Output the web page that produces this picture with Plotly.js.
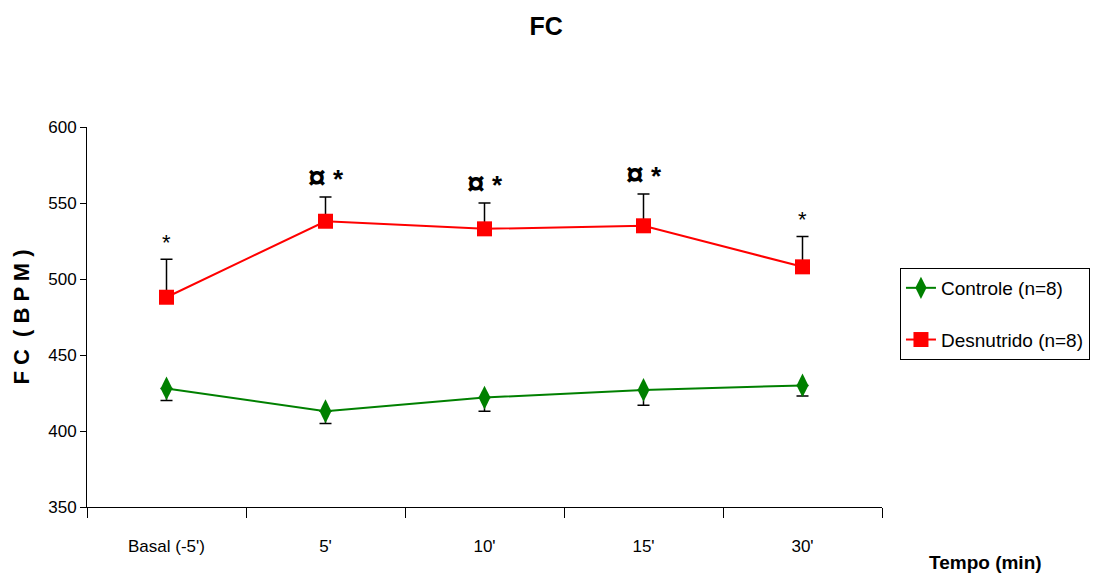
<!DOCTYPE html>
<html>
<head>
<meta charset="utf-8">
<script src="https://cdn.plot.ly/plotly-3.0.1.min.js"></script>
<style>html,body{margin:0;padding:0;background:#fff;}#chart{width:1099px;height:579px;}</style>
</head>
<body>
<div id="chart"></div>
<script>
const categories = ["Basal (-5')", "5'", "10'", "15'", "30'"];
const controleValues = [428, 413, 422, 427, 430];
const controleErr = [8, 8, 9, 10, 7];
const desnutridoValues = [488, 538, 533, 535, 508];
const desnutridoErr = [25, 16, 17, 21, 20];
const significance = ["*", "¤ *", "¤ *", "¤ *", "*"];
const zeros = [0, 0, 0, 0, 0];

const FONT = "'Liberation Sans', Arial, sans-serif";

const traces = [
  {
    x: categories, y: controleValues, name: "Controle (n=8)", legendgroup: "c", type: "scatter", mode: "lines+markers",
    line: {color: "#008000", width: 2},
    marker: {symbol: "diamond-tall", size: 17, color: "#008000"},
    error_y: {type: "data", symmetric: false, array: zeros, arrayminus: controleErr, color: "#000", thickness: 1.5, width: 6}
  },
  {
    x: categories, y: desnutridoValues, name: "Desnutrido (n=8)", legendgroup: "d", type: "scatter", mode: "lines+markers",
    line: {color: "#FF0000", width: 2},
    marker: {symbol: "square", size: 15, color: "#FF0000"},
    error_y: {type: "data", symmetric: false, array: desnutridoErr, arrayminus: zeros, color: "#000", thickness: 1.5, width: 6}
  }
];

function sigText(s) {
  if (s === "*") return "*";
  return "<span style='font-size:32px;font-weight:bold'>¤</span><b><span style='font-size:26px'> *</span></b>";
}

const annotations = categories.map((c, i) => ({
  x: c, y: desnutridoValues[i] + desnutridoErr[i], xref: "x", yref: "y",
  text: sigText(significance[i]), showarrow: false, yanchor: "bottom", yshift: significance[i] === "*" ? 2 : 0,
  font: {family: FONT, size: 22, color: "#000"}
}));
annotations.push({
  text: "<b>Tempo (min)</b>", xref: "paper", yref: "paper", x: 1.13, y: -0.147,
  xanchor: "center", yanchor: "middle", showarrow: false,
  font: {family: FONT, size: 19, color: "#000"}
});

const layout = {
  width: 1099, height: 579,
  margin: {l: 87, r: 217, t: 127, b: 72, autoexpand: false},
  paper_bgcolor: "#fff", plot_bgcolor: "#fff",
  font: {family: FONT, size: 17, color: "#000"},
  title: {text: "<b>FC</b>", x: 0.497, xref: "container", xanchor: "center", y: 0.955, yanchor: "middle", font: {family: FONT, size: 25, color: "#000"}},
  xaxis: {
    type: "category", showgrid: false, zeroline: false, showline: true, linecolor: "#000", linewidth: 1,
    ticks: "outside", ticklen: 10, tickcolor: "#000", tickwidth: 1, tickson: "boundaries",
    ticklabelstandoff: 24, tickfont: {family: FONT, size: 17}, range: [-0.5, 4.5]
  },
  yaxis: {
    range: [350, 600], dtick: 50, showgrid: false, zeroline: false, showline: true, linecolor: "#000", linewidth: 1,
    ticks: "outside", ticklen: 6, tickcolor: "#000", tickwidth: 1, tickfont: {family: FONT, size: 17},
    title: {text: "<b>F C  ( B P M )</b>", standoff: 12, font: {family: FONT, size: 22}}
  },
  showlegend: true,
  legend: {
    x: 1.0226, y: 0.629, xanchor: "left", yanchor: "top",
    bordercolor: "#000", borderwidth: 1, bgcolor: "#fff",
    font: {family: FONT, size: 19}, tracegroupgap: 24
  },
  annotations: annotations
};

Plotly.newPlot("chart", traces, layout, {displayModeBar: false, staticPlot: true});
</script>
</body>
</html>
